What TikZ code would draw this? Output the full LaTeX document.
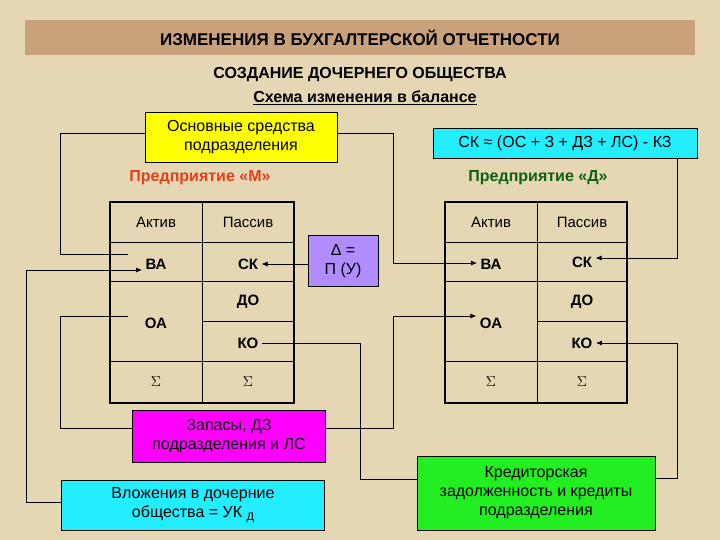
\documentclass[tikz,border=0pt]{standalone}
\usepackage{fontspec}
\setmainfont{Liberation Sans}
\usetikzlibrary{arrows.meta}
\definecolor{bg}{HTML}{E6D7B4}
\definecolor{bar}{HTML}{C9A27C}
\definecolor{mred}{HTML}{E0401A}
\definecolor{dgreen}{HTML}{106010}
\definecolor{ccyan}{HTML}{22EEFF}
\definecolor{cmag}{HTML}{FF00FF}
\definecolor{cgreen}{HTML}{22EE22}
\definecolor{cyel}{HTML}{FFFF00}
\definecolor{cpur}{HTML}{B08CFF}
\begin{document}
\begin{tikzpicture}[x=1pt,y=-1pt,
  bx/.style={draw=black,line width=0.8pt,align=center,inner sep=2pt,font=\fontsize{16}{19}\selectfont},
  cell/.style={font=\fontsize{15}{18}\selectfont},
  bcell/.style={font=\bfseries\fontsize{15}{18}\selectfont},
  hd/.style={font=\bfseries\fontsize{16}{19}\selectfont},
  con/.style={line width=0.8pt},
  arr/.style={line width=0.8pt,-{Latex[length=6pt,width=5pt]}}]
\fill[bg] (0,0) rectangle (720,540);
\useasboundingbox (0,0) rectangle (720,540);
\fill[bar] (25,20) rectangle (695,55);
\node[font=\bfseries\fontsize{17}{19}\selectfont] (title) at (360,38) {ИЗМЕНЕНИЯ В БУХГАЛТЕРСКОЙ ОТЧЕТНОСТИ};
\node[hd] (sub) at (360,75) {СОЗДАНИЕ ДОЧЕРНЕГО ОБЩЕСТВА};
\node[hd] (sch) at (365,98) {\underline{Схема изменения в балансе}};
% boxes
\node[bx,fill=cyel,minimum width=192pt,minimum height=50pt] (os) at (241,137) {Основные средства\\подразделения};
\node[bx,fill=ccyan,minimum width=264pt,minimum height=30pt] (sk) at (565,143) {СК ≈ (ОС + З + ДЗ + ЛС) - КЗ};
\node[bx,fill=cpur,minimum width=70pt,minimum height=51pt] (dl) at (343,261) {Δ =\\П (У)};
\node[bx,fill=cmag,minimum width=193pt,minimum height=52pt] (zap) at (229,436) {Запасы, ДЗ\\подразделения и ЛС};
\node[bx,fill=ccyan,minimum width=263pt,minimum height=50pt] (vl) at (193,505) {Вложения в дочерние\\общества = УК \raisebox{-3pt}{\fontsize{11}{12}\selectfont Д}};
\node[bx,fill=cgreen,minimum width=238pt,minimum height=74pt] (kr) at (536,493) {Кредиторская\\задолженность и кредиты\\подразделения};
\node[hd,text=mred] (pm) at (200,178) {Предприятие «М»};
\node[hd,text=dgreen] (pd) at (538,178) {Предприятие «Д»};
% left table
\draw[line width=1.5pt] (110,202) rectangle (294,403);
\draw[line width=0.7pt] (202,202)--(202,403) (110,242)--(294,242) (110,281)--(294,281) (202,321)--(294,321) (110,361)--(294,361);
\node[cell] (la) at (156,222) {Актив};
\node[cell] (lp) at (248,222) {Пассив};
\node[bcell] (lva) at (156,264) {ВА};
\node[bcell] (lsk) at (248,264) {СК};
\node[bcell] (lda) at (248,302) {ДО};
\node[bcell] (loa) at (156,323) {ОА};
\node[bcell] (lko) at (248,343) {КО};
\node[cell] (ls1) at (156,382) {$\Sigma$};
\node[cell] (ls2) at (248,382) {$\Sigma$};
% right table
\draw[line width=1.5pt] (445,202) rectangle (627,403);
\draw[line width=0.7pt] (537,202)--(537,403) (445,242)--(627,242) (445,281)--(627,281) (537,321)--(627,321) (445,361)--(627,361);
\node[cell] (ra) at (491,222) {Актив};
\node[cell] (rp) at (582,222) {Пассив};
\node[bcell] (rva) at (491,264) {ВА};
\node[bcell] (rsk) at (582,262) {СК};
\node[bcell] (rda) at (582,302) {ДО};
\node[bcell] (roa) at (491,323) {ОА};
\node[bcell] (rko) at (582,343) {КО};
\node[cell] (rs1) at (491,382) {$\Sigma$};
\node[cell] (rs2) at (582,382) {$\Sigma$};
% connectors
\coordinate (c1) at (128,254);
\coordinate (c2) at (128,316);
\coordinate (c3) at (677,158);
\draw[con] (os.west|-0,133) -| (60,254) -- (c1);
\draw[arr] (os.east|-0,133) -| (393,263) -- (rva.west|-0,263);
\draw[arr] (vl.west|-0,502) -| (26,270) -- (lva.west|-0,270);
\draw[arr] (dl.west|-0,264) -- (lsk.east|-0,264);
\draw[con] (c2) -| (60,428) -- (zap.west|-0,428);
\draw[arr] (zap.east|-0,428) -| (393,316) -- (roa.west|-0,316);
\draw[con] (lko.east|-0,343) -| (360,479) -- (kr.west|-0,479);
\draw[arr] (kr.east|-0,478) -| (677,343) -- (rko.east|-0,343);
\draw[arr] (c3) |- (rsk.east|-0,258);
\end{tikzpicture}
\end{document}
